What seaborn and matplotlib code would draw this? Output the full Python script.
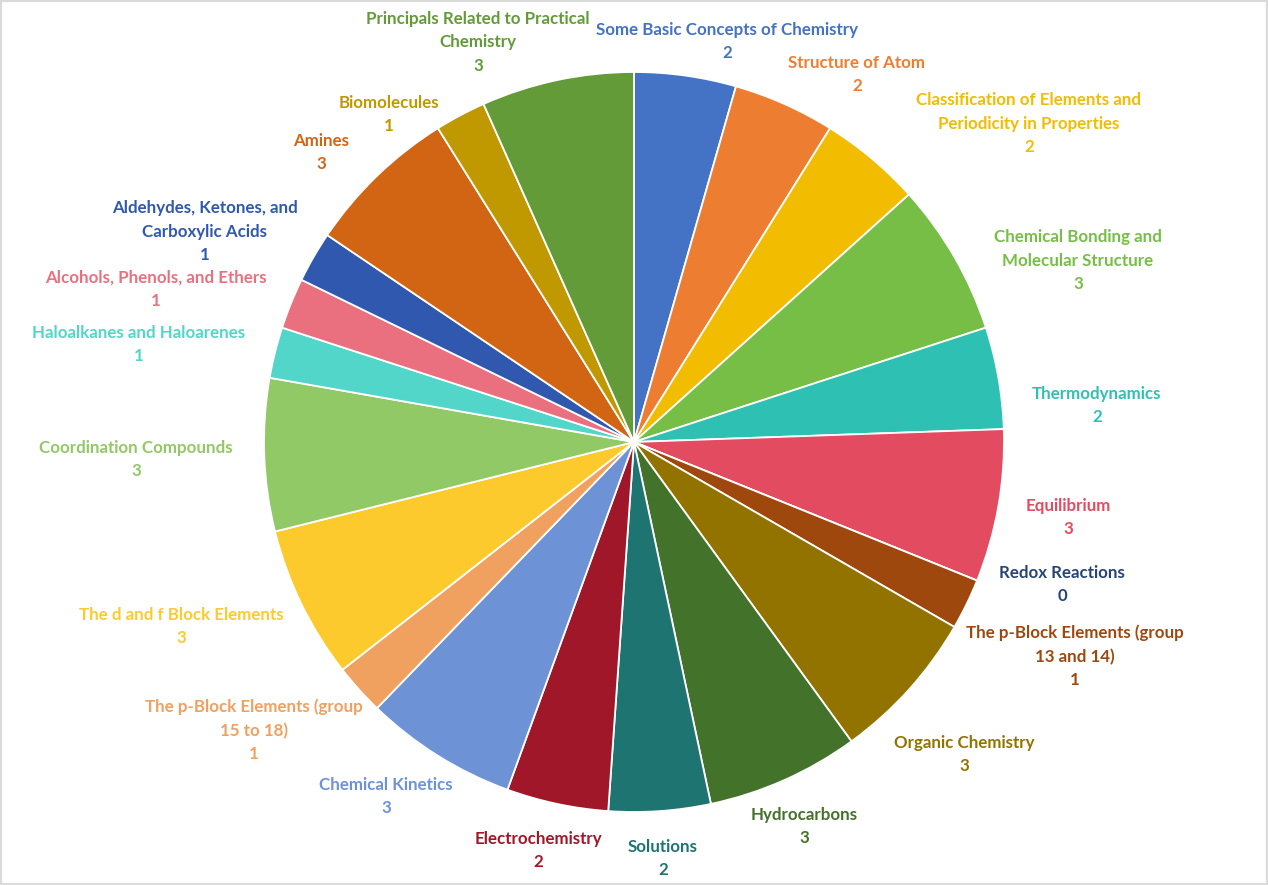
import matplotlib
matplotlib.use("Agg")
import matplotlib.pyplot as plt
import seaborn as sns

# Topics and number of questions, clockwise from 12 o'clock
topics = [
    "Some Basic Concepts of Chemistry",
    "Structure of Atom",
    "Classification of Elements and\nPeriodicity in Properties",
    "Chemical Bonding and\nMolecular Structure",
    "Thermodynamics",
    "Equilibrium",
    "Redox Reactions",
    "The p-Block Elements (group\n13 and 14)",
    "Organic Chemistry",
    "Hydrocarbons",
    "Solutions",
    "Electrochemistry",
    "Chemical Kinetics",
    "The p-Block Elements (group\n15 to 18)",
    "The d and f Block Elements",
    "Coordination Compounds",
    "Haloalkanes and Haloarenes",
    "Alcohols, Phenols, and Ethers",
    "Aldehydes, Ketones, and\nCarboxylic Acids",
    "Amines",
    "Biomolecules",
    "Principals Related to Practical\nChemistry",
]
counts = [2, 2, 2, 3, 2, 3, 0, 1, 3, 3, 2, 2, 3, 1, 3, 3, 1, 1, 1, 3, 1, 3]

slice_colors = [
    "#4472C4", "#ED7D31", "#F2BC00", "#77BE46", "#2EC0B2", "#E34B60",
    "#264478", "#9E480E", "#937300", "#43722A", "#1E7470", "#A0172A",
    "#6D92D6", "#F0A05F", "#FDCA2E", "#91C966", "#52D6C9", "#EA707F",
    "#2F58AE", "#D26513", "#C09800", "#629B38",
]

# where Excel put each data label (pixel centre of the text block)
label_xy = [
    (727, 39), (857, 72), (1029, 121), (1078, 258), (1097, 403), (1068, 515),
    (1062, 582), (1075, 654), (964, 752), (804, 824), (663, 856), (538, 848),
    (386, 794), (254, 728), (181, 624), (136, 457), (139, 342), (156, 287),
    (205, 229), (321, 150), (389, 112), (478, 40),
]

W, H = 1268, 885

sns.set_theme(style="white")
plt.rcParams["font.family"] = ["Lato", "DejaVu Sans"]

fig = plt.figure(figsize=(W / 100, H / 100), dpi=100)
ax = fig.add_axes([0, 0, 1, 1])

ax.pie(counts, colors=slice_colors, startangle=90, counterclock=False,
       center=(634, H - 442), radius=370,
       wedgeprops=dict(edgecolor="white", linewidth=1.3))

for name, n, c, (x, y) in zip(topics, counts, slice_colors, label_xy):
    ax.text(x, H - y - 2.5, f"{name}\n{n}", color=c, fontsize=12.2,
            fontweight="bold", ha="center", va="center", linespacing=1.55,
            multialignment="center")

ax.set_xlim(0, W)
ax.set_ylim(0, H)
ax.set_aspect("equal")
ax.axis("off")

# chart area border
fig.patches.append(plt.Rectangle((0, 0), 1, 1, transform=fig.transFigure,
                                 fill=False, edgecolor="#DADADA", linewidth=3))

fig.savefig("out.png", dpi=100)
